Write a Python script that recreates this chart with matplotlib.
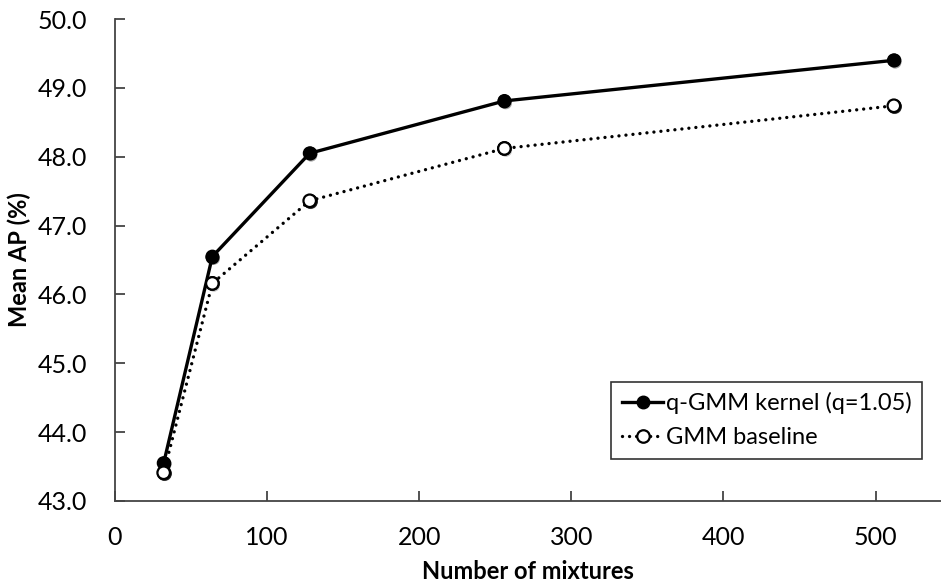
import matplotlib.pyplot as plt
import matplotlib.patheffects as pe

# Mean AP vs. number of GMM mixtures
mixtures = [32, 64, 128, 256, 512]
qgmm_ap = [43.55, 46.55, 48.05, 48.81, 49.40]
gmm_ap = [43.41, 46.16, 47.36, 48.12, 48.74]

plt.rcParams['font.family'] = ['Lato', 'DejaVu Sans']

fig = plt.figure(figsize=(9.41, 5.83), dpi=100)
ax = fig.add_axes([0.1222, 0.1407, 0.8778, 0.8267])

shadow = [pe.SimplePatchShadow(offset=(1, -1.5), alpha=0.35), pe.Normal()]

ax.plot(mixtures, qgmm_ap, color='black', linewidth=2.4, linestyle='-',
        marker='o', markersize=9, markerfacecolor='black',
        markeredgecolor='black', label='q-GMM kernel (q=1.05)')
ax.plot(mixtures, gmm_ap, color='black', linewidth=2.4, linestyle=(0, (0.01, 2.1)),
        dash_capstyle='round', marker='o', markersize=9,
        markerfacecolor='white', markeredgecolor='black', markeredgewidth=1.6,
        label='GMM baseline')

# marker shadows drawn on top of the lines
ax.plot(mixtures, qgmm_ap, linestyle='none', marker='o', markersize=9,
        markerfacecolor='black', markeredgecolor='black', path_effects=shadow)
ax.plot(mixtures, gmm_ap, linestyle='none', marker='o', markersize=9,
        markerfacecolor='white', markeredgecolor='black', markeredgewidth=1.6,
        path_effects=shadow)

ax.set_xlim(0, 543)
ax.set_ylim(43, 50)
ax.set_xticks([0, 100, 200, 300, 400, 500])
ax.set_yticks([43, 44, 45, 46, 47, 48, 49, 50])
ax.set_yticklabels([f"{v:.1f}" for v in range(43, 51)])

for s in ['top', 'right']:
    ax.spines[s].set_visible(False)
for s in ['left', 'bottom']:
    ax.spines[s].set_color('#444444')
    ax.spines[s].set_linewidth(1.3)

ax.tick_params(axis='both', direction='in', length=7, width=1.3,
               color='#444444', labelsize=18)
ax.tick_params(axis='x', pad=18)
ax.tick_params(axis='y', pad=20)

ax.set_xlabel('Number of mixtures', fontsize=17, fontweight='bold', va='center')
ax.set_ylabel('Mean AP (%)', fontsize=17, fontweight='bold', va='center')
ax.xaxis.set_label_coords(0.5, -0.147)
ax.yaxis.set_label_coords(-0.116, 0.5)

leg = ax.legend(loc='lower right', bbox_to_anchor=(0.977, 0.087), fontsize=17,
                frameon=True, fancybox=False, edgecolor='black',
                handlelength=1.75, handletextpad=0.1, borderpad=0.45,
                labelspacing=0.55, borderaxespad=0)
leg.get_frame().set_linewidth(1.2)

plt.savefig('out.png', dpi=100)
